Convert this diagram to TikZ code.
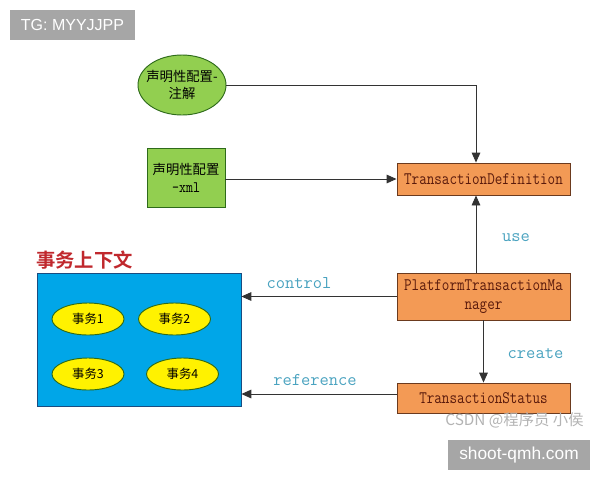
\documentclass[tikz,border=0pt]{standalone}
\usepackage{fontspec}
\usepackage{graphicx}
\setmainfont{Liberation Serif}
\newfontfamily\cjk{Noto Sans CJK SC}
\newfontfamily\cjkb{Noto Sans CJK SC Bold}
\newfontfamily\arialf{Liberation Sans}
\usetikzlibrary{shapes.geometric,arrows.meta}
\newcommand{\tallmono}[1]{\scalebox{1}[1.2]{#1}}
\definecolor{orangebox}{HTML}{F39A55}
\definecolor{orangeedge}{HTML}{6B3A1E}
\definecolor{boxtext}{HTML}{5A1A0C}
\definecolor{greenfill}{HTML}{92CF50}
\definecolor{greenedge}{HTML}{2E6B1A}
\definecolor{bluefill}{HTML}{00A6E8}
\definecolor{blueedge}{HTML}{1A4C80}
\definecolor{yellowfill}{HTML}{FFF200}
\definecolor{labelcol}{HTML}{4AA3C0}
\definecolor{titlered}{HTML}{C0282D}
\definecolor{wmgray}{HTML}{A6A6A6}
\tikzset{
  orbox/.style={draw=orangeedge, fill=orangebox, line width=0.7pt, text=boxtext,
    font=\ttfamily\fontsize{11pt}{14pt}\selectfont, align=center, inner sep=0pt},
  grn/.style={draw=greenedge, fill=greenfill, line width=0.7pt, text=black,
    font=\cjk\fontsize{10pt}{13pt}\selectfont, align=center, inner sep=0pt},
  tx/.style={draw=greenedge, fill=yellowfill, ellipse, line width=0.7pt,
    minimum width=54pt, minimum height=24pt, inner sep=0pt,
    font=\cjk\fontsize{9.3pt}{11pt}\selectfont},
  conn/.style={draw=black!80, line width=0.7pt, -{Triangle[length=7.5pt,width=6.5pt]}},
  lab/.style={text=labelcol, font=\ttfamily\fontsize{13.5pt}{15pt}\selectfont, inner sep=0pt},
  wmbox/.style={fill=wmgray, text=white, font=\arialf\fontsize{12pt}{14pt}\selectfont, inner sep=0pt}
}
\begin{document}
\begin{tikzpicture}[x=0.75pt,y=-0.75pt]
\useasboundingbox (0,0) rectangle (600,480);
\fill[white] (0,0) rectangle (600,480);

% watermark top-left
\node[wmbox, minimum width=93.75pt, minimum height=22.5pt] (tg) at (72.5,25) {TG: MYYJJPP};

% left sources
\node[draw=greenedge, fill=greenfill, line width=0.7pt, ellipse, minimum width=66pt, minimum height=45pt, inner sep=0pt] (ann) at (182,85) {};
\node[grn, draw=none, fill=none] (anntext) at (ann.center) {声明性配置-\\注解};
\node[grn, rectangle, minimum width=58.5pt, minimum height=44.25pt] (xml) at (186,178) {声明性配置\\{\ttfamily\fontsize{10pt}{12pt}\selectfont \tallmono{-xml}}};

% right boxes
\node[orbox, minimum width=129.75pt, minimum height=24pt] (td) at (483.5,179) {\tallmono{TransactionDefinition}};
\node[orbox, minimum width=129.75pt, minimum height=35.25pt] (ptm) at (483.5,296.5) {\tallmono{PlatformTransactionMa}\\\tallmono{nager}};
\node[orbox, minimum width=129.75pt, minimum height=22.5pt] (ts) at (483.5,398) {\tallmono{TransactionStatus}};

% context box
\node[draw=blueedge, fill=bluefill, line width=0.6pt, minimum width=153pt, minimum height=99.75pt, inner sep=0pt] (ctx) at (139,339.5) {};
\node[text=titlered, font=\cjkb\fontsize{14.5pt}{16pt}\selectfont, inner sep=0pt, anchor=west] (title) at (36,260) {事务上下文};
\node[tx] (t1) at (88,319) {事务1};
\node[tx] (t2) at (174.5,319) {事务2};
\node[tx] (t3) at (88,374) {事务3};
\node[tx] (t4) at (182.5,374) {事务4};

% connectors
\coordinate (bend) at (476,85);
\draw[conn] (ann.east) -- (bend) -- (td.north -| bend);
\draw[conn] (xml.east |- td.west) -- (td.west);
\draw[conn] (ptm.north -| bend) -- (td.south -| bend);
\draw[conn] (ptm.south) -- (ts.north);
\draw[conn] (ptm.west) -- (ptm.west -| ctx.east);
\draw[conn] (ts.west |- 0,394) -- (ctx.east |- 0,394);

% labels
\node[lab] (luse) at (516,238) {use};
\node[lab] (lcreate) at (535.5,354) {create};
\node[lab] (lcontrol) at (299,283) {control};
\node[lab] (lref) at (315,380) {reference};

% watermarks bottom-right
\node[text=wmgray!85, font=\cjk\fontsize{11.5pt}{13pt}\selectfont, inner sep=0pt] (csdn) at (514.5,420) {CSDN @程序员 小侯};
\node[wmbox, minimum width=106.5pt, minimum height=22.5pt, font=\arialf\fontsize{13pt}{15pt}\selectfont] (shoot) at (519,455) {shoot-qmh.com};
\end{tikzpicture}
\end{document}
